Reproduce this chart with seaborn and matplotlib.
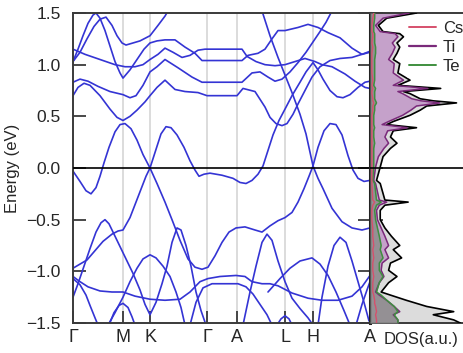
import numpy as np
import pandas as pd
import matplotlib
matplotlib.use("Agg")
import matplotlib.pyplot as plt
from matplotlib.lines import Line2D
import seaborn as sns

# ---------------- data ----------------
kpath_pos = [73, 123, 150, 207, 237, 285, 313, 370]
kpath_labels = ["Γ", "M", "K", "Γ", "A", "L", "H", "A"]
energy_ticks = [-1.5, -1.0, -0.5, 0.0, 0.5, 1.0, 1.5]

band_01 = [(73,-0.03),(80,-0.13),(86,-0.22),(91,-0.25),(96,-0.19),(100,-0.08),(104,0.05),(109,0.2),(115,0.35),(120,0.42),(125,0.43),(131,0.38),(137,0.27),(143,0.13),(150,0.0),(156,0.18),(161,0.33),(166,0.40),(171,0.39),(177,0.32),(184,0.2),(190,0.07),(195,-0.02),(199,-0.08),(204,-0.06),(210,-0.05),(222,-0.07),(233,-0.1),(240,-0.14),(246,-0.15),(252,-0.12),(258,-0.06),(263,0.02),(268,0.17),(273,0.32),(279,0.46),(285,0.57),(292,0.7),(300,0.83),(306,0.93),(313,1.02),(318,0.95),(323,0.86),(330,0.75),(337,0.69),(343,0.68),(350,0.71),(358,0.78),(365,0.83),(370,0.84)]
band_02 = [(73,1.03),(78,1.15),(83,1.28),(88,1.4),(93,1.48),(96,1.5),(100,1.45),(105,1.33),(110,1.18),(115,1.03),(120,0.92),(123,0.87),(130,0.95),(137,1.05),(144,1.15),(150,1.21),(157,1.23),(165,1.24),(175,1.24),(185,1.17),(195,1.11),(202,1.04),(210,1.04),(242,1.04),(248,1.09),(258,1.11),(265,1.15),(272,1.25),(278,1.33),(285,1.33),(298,1.36),(308,1.39),(318,1.36),(328,1.31),(340,1.26),(352,1.16),(362,1.1),(370,1.13)]
band_03 = [(73,1.03),(80,1.12),(87,1.25),(94,1.37),(100,1.44),(106,1.46),(112,1.38),(117,1.28),(122,1.21),(126,1.19),(133,1.21),(140,1.23),(150,1.28),(158,1.38),(165,1.47),(168,1.52)]
band_04 = [(73,1.15),(85,1.1),(100,1.05),(115,1.0),(125,0.98),(135,0.98),(143,1.0),(150,1.05),(158,1.1),(165,1.16),(173,1.12),(182,1.07),(190,1.09),(198,1.14),(205,1.15),(242,1.15),(247,1.08),(256,1.03),(265,1.0),(275,0.99),(285,1.0),(295,1.03),(305,1.06),(315,1.03),(322,1.0),(332,0.98),(345,0.91),(355,0.84),(365,0.78),(370,0.77)]
band_05 = [(73,0.83),(80,0.86),(88,0.84),(98,0.79),(110,0.74),(123,0.71),(130,0.68),(136,0.7),(143,0.8),(150,0.93),(157,0.98),(165,1.05),(178,0.97),(192,0.88),(202,0.83),(242,0.83),(252,0.92),(260,0.93),(268,0.88),(275,0.84),(282,0.86),(290,0.93),(298,1.02),(306,1.12),(313,1.22),(320,1.32),(326,1.41),(332,1.52)]
band_06 = [(73,0.70),(78,0.78),(84,0.82),(90,0.8),(100,0.7),(110,0.57),(117,0.49),(123,0.46),(130,0.5),(137,0.56),(145,0.64),(150,0.7),(157,0.78),(165,0.85),(175,0.76),(185,0.74),(198,0.73),(207,0.70),(237,0.70),(243,0.77),(255,0.74),(265,0.59),(270,0.49),(276,0.43),(282,0.41),(287,0.43),(293,0.52),(298,0.62),(305,0.75),(312,0.88),(320,0.98),(330,1.04),(340,1.06),(352,1.07),(362,1.1),(370,1.12)]
band_07 = [(262,1.52),(270,1.28),(278,1.07),(285,0.9),(292,0.73),(300,0.52),(306,0.33),(313,0.02),(318,-0.1),(323,-0.2),(332,-0.39),(342,-0.52),(352,-0.58),(362,-0.6),(370,-0.58)]
band_08 = [(150,0.0),(157,-0.15),(165,-0.33),(172,-0.5),(180,-0.7),(188,-0.88),(195,-0.96),(202,-0.98),(208,-0.96),(215,-0.85),(222,-0.72),(229,-0.62),(236,-0.58),(245,-0.57),(255,-0.6),(262,-0.62),(270,-0.56),(278,-0.51),(285,-0.48),(292,-0.43),(298,-0.33),(304,-0.2),(309,-0.08),(313,0.02),(318,0.2),(324,0.36),(330,0.43),(336,0.42),(342,0.32),(348,0.12),(353,-0.02),(358,-0.1),(364,-0.13),(370,-0.12)]
band_09 = [(73,-0.97),(80,-0.93),(87,-0.89),(95,-0.8),(103,-0.71),(112,-0.64),(118,-0.61),(123,-0.6),(130,-0.48),(136,-0.33),(142,-0.18),(146,-0.08),(150,0.0)]
band_10 = [(73,-1.25),(78,-1.12),(84,-0.95),(90,-0.78),(96,-0.62),(101,-0.53),(105,-0.5),(109,-0.54),(114,-0.64),(120,-0.76),(127,-0.9),(133,-1.02),(140,-1.18),(145,-1.32),(150,-1.42),(156,-1.3),(162,-1.12),(167,-0.95),(172,-0.72),(177,-0.58),(181,-0.6),(186,-0.75),(191,-0.95),(196,-1.2),(201,-1.38),(206,-1.52)]
band_11 = [(73,-1.05),(80,-1.1),(88,-1.15),(100,-1.19),(112,-1.2),(123,-1.2),(135,-1.24),(150,-1.27),(165,-1.28),(180,-1.27),(190,-1.2),(200,-1.1),(208,-1.07),(220,-1.05),(236,-1.04),(245,-1.05),(252,-1.1),(262,-1.12),(270,-1.12),(278,-1.14),(292,-1.21),(308,-1.26),(322,-1.28),(338,-1.28),(352,-1.24),(362,-1.15),(370,-1.04)]
band_12 = [(73,-1.07),(80,-1.13),(86,-1.23),(90,-1.33),(95,-1.45),(98,-1.52)]
band_13 = [(109,-1.52),(114,-1.4),(119,-1.33),(123,-1.31),(128,-1.35),(132,-1.44),(135,-1.52)]
band_14 = [(108,-1.52),(115,-1.4),(123,-1.25),(130,-1.1),(137,-0.97),(143,-0.88),(150,-0.84),(156,-0.87),(163,-0.95),(170,-1.05),(176,-1.2),(181,-1.35),(185,-1.52)]
band_15 = [(243,-1.52),(250,-1.2),(256,-0.95),(262,-0.72),(267,-0.64),(272,-0.7),(278,-0.9),(285,-1.1),(292,-1.26),(300,-1.36),(308,-1.45),(313,-1.52)]
band_16 = [(190,-1.52),(196,-1.3),(203,-1.16),(212,-1.12),(225,-1.12),(238,-1.12),(246,-1.15),(253,-1.22),(260,-1.32),(267,-1.42),(272,-1.52)]
band_17 = [(268,-1.2),(280,-1.07),(290,-0.97),(300,-0.9),(312,-0.87),(320,-0.93),(328,-1.04),(336,-1.2),(344,-1.38),(350,-1.52)]
band_18 = [(318,-1.52),(322,-1.25),(328,-0.95),(334,-0.75),(340,-0.67),(346,-0.72),(352,-0.9),(358,-1.1),(364,-1.3),(369,-1.48)]
band_19 = [(277,-1.52),(281,-1.46),(285,-1.43),(289,-1.46),(292,-1.52)]
band_20 = [(356,-1.52),(362,-1.32),(367,-1.18),(370,-1.1)]

dos_energy = [1.50,1.45,1.38,1.32,1.30,1.27,1.21,1.17,1.11,1.05,1.01,0.92,0.85,0.80,0.77,0.74,0.72,0.67,0.65,0.63,0.60,0.56,0.51,0.45,0.42,0.39,0.36,0.30,0.24,0.19,0.11,0.01,-0.12,-0.15,-0.31,-0.33,-0.36,-0.41,-0.50,-0.58,-0.66,-0.75,-0.79,-0.87,-0.92,-0.99,-1.05,-1.11,-1.20,-1.23,-1.28,-1.31,-1.34,-1.39,-1.42,-1.47,-1.50]
dos_total = [0.50,0.18,0.09,0.14,0.32,0.36,0.29,0.32,0.29,0.25,0.32,0.30,0.43,0.30,0.76,0.36,0.43,0.54,0.68,0.93,0.61,0.54,0.43,0.25,0.18,0.50,0.25,0.22,0.29,0.22,0.14,0.11,0.07,0.11,0.16,0.41,0.16,0.11,0.11,0.16,0.23,0.32,0.25,0.34,0.22,0.20,0.29,0.20,0.12,0.22,0.39,0.50,0.61,0.90,0.68,0.90,0.97]
dos_ti = [0.42,0.14,0.06,0.11,0.27,0.30,0.24,0.27,0.24,0.20,0.26,0.25,0.36,0.25,0.62,0.30,0.35,0.45,0.55,0.75,0.50,0.44,0.35,0.20,0.13,0.40,0.19,0.16,0.20,0.15,0.09,0.06,0.04,0.06,0.10,0.18,0.10,0.07,0.08,0.12,0.16,0.20,0.16,0.20,0.13,0.12,0.15,0.10,0.06,0.10,0.18,0.22,0.26,0.32,0.25,0.30,0.30]
dos_te = [0.05,0.05,0.04,0.04,0.05,0.05,0.05,0.06,0.06,0.05,0.05,0.05,0.05,0.04,0.06,0.05,0.05,0.05,0.06,0.07,0.05,0.05,0.04,0.04,0.04,0.05,0.04,0.04,0.05,0.04,0.04,0.04,0.03,0.05,0.07,0.12,0.07,0.05,0.06,0.08,0.10,0.12,0.11,0.14,0.10,0.10,0.14,0.10,0.07,0.12,0.18,0.22,0.26,0.30,0.26,0.30,0.30]
dos_cs = [0.04,0.03,0.02,0.02,0.03,0.03,0.02,0.03,0.02,0.02,0.02,0.02,0.03,0.02,0.03,0.02,0.02,0.03,0.03,0.04,0.03,0.03,0.02,0.02,0.02,0.02,0.02,0.02,0.02,0.02,0.02,0.02,0.02,0.02,0.03,0.05,0.03,0.02,0.02,0.03,0.03,0.04,0.03,0.04,0.03,0.03,0.04,0.03,0.03,0.04,0.05,0.05,0.06,0.07,0.06,0.07,0.07]

bands = [band_01, band_02, band_03, band_04, band_05, band_06, band_07, band_08, band_09, band_10,
         band_11, band_12, band_13, band_14, band_15, band_16, band_17, band_18, band_19, band_20]

rows = []
for i, b in enumerate(bands):
    for order, (k, e) in enumerate(b):
        rows.append({"band": i, "order": order, "k": k, "E": e})
df = pd.DataFrame(rows)
dos = pd.DataFrame({"E": dos_energy, "total": dos_total, "Ti": dos_ti, "Te": dos_te, "Cs": dos_cs})

# ---------------- figure ----------------
sns.set_theme(style="white")
plt.rcParams["font.family"] = ["Liberation Sans", "DejaVu Sans"]

W, H = 463, 353
fig = plt.figure(figsize=(W / 100, H / 100), dpi=100)
x0, x1, x2 = 73, 370, 470
ytop, ybot = 13, 323
ax = fig.add_axes([x0 / W, 1 - ybot / H, (x1 - x0) / W, (ybot - ytop) / H])
axd = fig.add_axes([x1 / W, 1 - ybot / H, (x2 - x1) / W, (ybot - ytop) / H])

spine_col = "#3a3a3a"
band_col = "#3434d4"

for p in kpath_pos[1:-1]:
    ax.axvline(p, color="#d2d2d2", lw=1.1, zorder=0)

sns.lineplot(data=df, x="k", y="E", units="band", estimator=None, sort=False,
             color=band_col, lw=1.2, ax=ax, legend=False, zorder=2)
ax.axhline(0, color="black", lw=1.2, zorder=3)

ax.set_xlim(kpath_pos[0], kpath_pos[-1])
ax.set_ylim(-1.5, 1.5)
ax.set_xticks(kpath_pos)
ax.set_xticklabels(kpath_labels)
ax.set_yticks(energy_ticks)
ax.set_yticklabels(["\u22121.5", "\u22121.0", "\u22120.5", "0.0", "0.5", "1.0", "1.5"])
ax.set_xlabel("")
ax.set_ylabel("Energy (eV)", fontsize=12, labelpad=4)
ax.tick_params(axis="y", direction="in", length=9, width=1.3, color=spine_col,
               labelsize=12.5, pad=9, right=True, left=True)
ax.tick_params(axis="x", direction="in", length=9, width=1.3, color=spine_col,
               labelsize=13, pad=4, top=False, bottom=True)
for s in ax.spines.values():
    s.set_color(spine_col)
    s.set_linewidth(1.4)
ax.spines["right"].set_visible(False)

# ---- DOS panel ----
axd.fill_betweenx(dos["E"], 0, dos["total"], color="#dcdcdc", lw=0, zorder=1)
axd.fill_betweenx(dos["E"], 0, dos["Ti"], color="#c39bc9", alpha=0.9, lw=0, zorder=2)
axd.fill_betweenx(dos["E"], 0, dos["Te"], color="#8f8f8f", alpha=0.9, lw=0, zorder=3)
sns.lineplot(data=dos, x="total", y="E", orient="y", sort=False, estimator=None,
             color="black", lw=1.2, ax=axd, zorder=5)
sns.lineplot(data=dos, x="Ti", y="E", orient="y", sort=False, estimator=None,
             color="#7a2a7a", lw=1.1, ax=axd, zorder=5)
sns.lineplot(data=dos, x="Te", y="E", orient="y", sort=False, estimator=None,
             color="#3f8f3f", lw=1.1, ax=axd, zorder=5)
sns.lineplot(data=dos, x="Cs", y="E", orient="y", sort=False, estimator=None,
             color="#d6506c", lw=1.0, ax=axd, zorder=5)
axd.axhline(0, color="black", lw=1.2, zorder=6)
axd.set_xlim(0, 1.075)
axd.set_ylim(-1.5, 1.5)
axd.set_yticks(energy_ticks)
axd.set_yticklabels([])
axd.set_xticks([])
axd.set_ylabel("")
axd.set_xlabel("DOS(a.u.)", fontsize=12, labelpad=4)
axd.xaxis.set_label_coords(0.515, -0.03)
axd.tick_params(axis="y", direction="in", length=9, width=1.3, color=spine_col, left=True)
for s in axd.spines.values():
    s.set_color(spine_col)
    s.set_linewidth(1.4)
axd.spines["left"].set_linewidth(2.2)
axd.spines["left"].set_color("#222222")
axd.spines["right"].set_visible(False)

handles = [Line2D([], [], color="#d6506c", lw=1.4),
           Line2D([], [], color="#7a2a7a", lw=1.6),
           Line2D([], [], color="#3f8f3f", lw=1.4)]
leg = axd.legend(handles, ["Cs", "Ti", "Te"], loc="upper left", bbox_to_anchor=(0.36, 0.985),
                 frameon=True, fontsize=12, handlelength=1.6, handletextpad=0.4,
                 labelspacing=0.25, borderpad=0.2, borderaxespad=0)
leg.get_frame().set_facecolor("white")
leg.get_frame().set_alpha(0.75)
leg.get_frame().set_edgecolor("none")
leg.set_zorder(10)

fig.savefig("out.png", dpi=100)
